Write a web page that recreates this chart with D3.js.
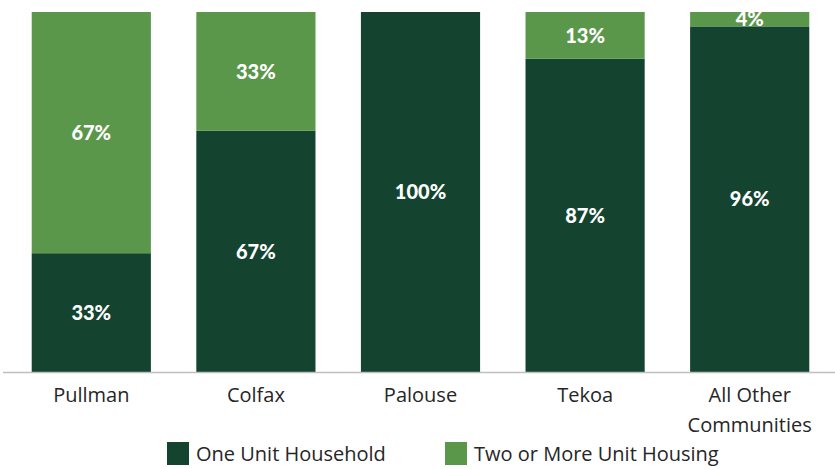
<!DOCTYPE html>
<html>
<head>
<meta charset="utf-8">
<script src="https://cdn.jsdelivr.net/npm/d3@7"></script>
<style>
  html, body { margin: 0; padding: 0; background: #ffffff; }
  svg { display: block; }
</style>
</head>
<body>
<svg id="chart" width="835" height="469"></svg>
<script>
const categories = ["Pullman", "Colfax", "Palouse", "Tekoa", "All Other Communities"];
const categoryLines = [["Pullman"], ["Colfax"], ["Palouse"], ["Tekoa"], ["All Other", "Communities"]];
const seriesNames = ["One Unit Household", "Two or More Unit Housing"];
const oneUnit = [33, 67, 100, 87, 96];
const twoOrMore = [67, 33, 0, 13, 4];
const colors = ["#144430", "#5b974b"];

const svg = d3.select("#chart");
const W = 835, H = 469;
const margin = { top: 12, right: 3, bottom: 97, left: 9 };
const plotBottom = H - margin.bottom;

const x = d3.scaleBand()
  .domain(categories)
  .range([margin.left, W - margin.right])
  .paddingInner(0.276)
  .paddingOuter(0.138);

const y = d3.scaleLinear()
  .domain([0, 100])
  .range([plotBottom, margin.top]);

const rows = categories.map((c, i) => ({ cat: c, one: oneUnit[i], two: twoOrMore[i] }));
const stack = d3.stack().keys(["one", "two"]);
const stacked = stack(rows);

const g = svg.append("g");
stacked.forEach((layer, li) => {
  g.selectAll(".bar" + li)
    .data(layer)
    .enter()
    .append("rect")
    .attr("x", d => x(d.data.cat))
    .attr("width", x.bandwidth())
    .attr("y", d => y(d[1]))
    .attr("height", d => y(d[0]) - y(d[1]))
    .attr("fill", colors[li]);
});

// data labels
stacked.forEach((layer, li) => {
  g.selectAll(".lbl" + li)
    .data(layer.filter(d => d[1] - d[0] > 0))
    .enter()
    .append("text")
    .attr("x", d => x(d.data.cat) + x.bandwidth() / 2)
    .attr("y", d => (y(d[0]) + y(d[1])) / 2)
    .attr("dy", "0.36em")
    .attr("text-anchor", "middle")
    .attr("fill", "#ffffff")
    .style("font-family", "Lato, 'Open Sans', sans-serif")
    .style("font-weight", "900")
    .style("font-size", "20px")
    .text(d => (d[1] - d[0]) + "%");
});

// x axis
const xAxis = d3.axisBottom(x).tickSize(0).tickFormat("");
const ax = svg.append("g")
  .attr("transform", `translate(0,${plotBottom})`)
  .call(xAxis);
ax.select(".domain").attr("stroke", "#bfbfbf").attr("stroke-width", 1.5)
  .attr("d", `M3,0.5H${W}`);

const tickG = svg.append("g");
categories.forEach((c, i) => {
  const t = tickG.append("text")
    .attr("x", x(c) + x.bandwidth() / 2)
    .attr("y", plotBottom + 30)
    .attr("text-anchor", "middle")
    .attr("fill", "#262626")
    .style("font-family", "'Open Sans', sans-serif")
    .style("font-size", "20px");
  categoryLines[i].forEach((line, j) => {
    t.append("tspan")
      .attr("x", x(c) + x.bandwidth() / 2)
      .attr("dy", j === 0 ? 0 : 30)
      .text(line);
  });
});

// legend
const legendItems = [
  { name: seriesNames[0], color: colors[0], x: 167 },
  { name: seriesNames[1], color: colors[1], x: 445 }
];
const lg = svg.append("g");
legendItems.forEach(it => {
  lg.append("rect")
    .attr("x", it.x).attr("y", 442)
    .attr("width", 22).attr("height", 23)
    .attr("fill", it.color);
  lg.append("text")
    .attr("x", it.x + 29).attr("y", 461)
    .attr("fill", "#262626")
    .style("font-family", "'Open Sans', sans-serif")
    .style("font-size", "20px")
    .text(it.name);
});
</script>
</body>
</html>
